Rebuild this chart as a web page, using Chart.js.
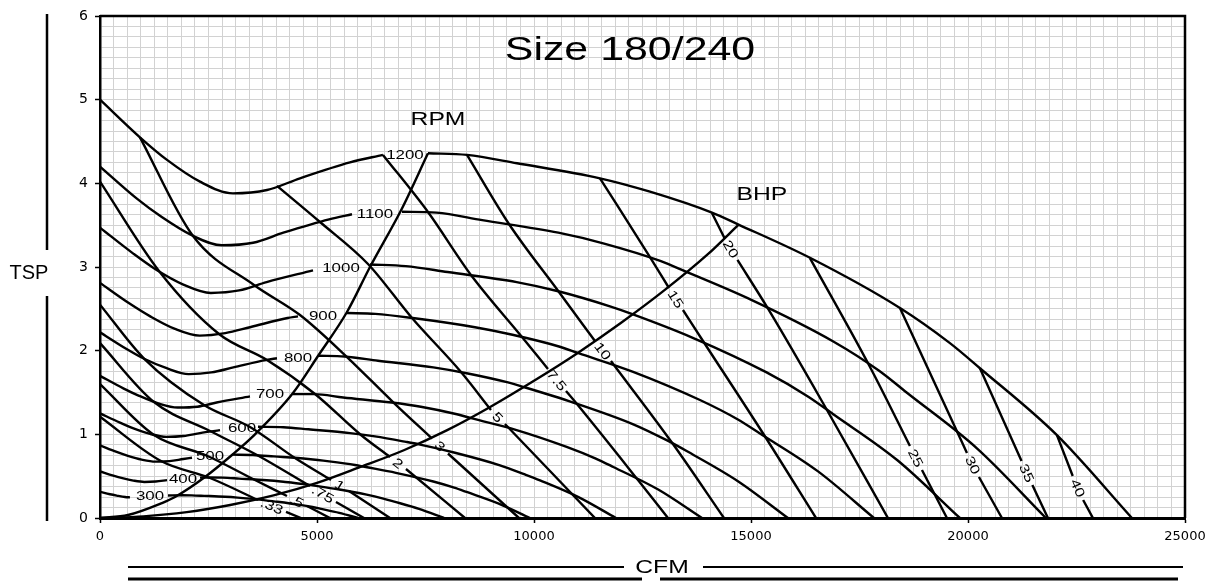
<!DOCTYPE html>
<html>
<head>
<meta charset="utf-8">
<script src="https://cdn.jsdelivr.net/npm/chart.js@4.4.1/dist/chart.umd.min.js"></script>
<style>
  html, body { margin: 0; padding: 0; background: #fff; }
</style>
</head>
<body>
<canvas id="js--fanChart" width="1213" height="583"></canvas>
<script>
// fan curve, size 180/240 - tsp vs cfm with rpm and bhp lines
const xTickLabels = [0, 5000, 10000, 15000, 20000, 25000];
const yTickLabels = [0, 1, 2, 3, 4, 5, 6];

const rpmValues = [300, 400, 500, 600, 700, 800, 900, 1000, 1100, 1200];

// [cfm, tsp]  (tsp null = break in the line where the label sits)
const rpm300 = [[0,0.3125],[230,0.284],[386,0.268],[576,0.251],[691,0.246],[1130,null],[1567,0.269],[1889,0.2725],[2114,0.271],[2402,0.265],[2880,0.254],[3168,0.244],[3525,0.228],[3675,0.219],[4090,0.194],[4608,0.157],[4896,0.131],[5069,0.112],[5512,0.062],[5944,0]];
const rpm400 = [[0,0.556],[307,0.506],[515,0.476],[768,0.447],[1021,0.431],[1283,0.436],[1544,0.452],[1920,null],[2304,0.483],[2519,0.484],[2819,0.482],[3203,0.471],[3840,0.451],[4224,0.433],[4700,0.406],[4900,0.39],[5453,0.346],[6144,0.279],[6528,0.232],[6758,0.199],[7350,0.11],[7926,0]];
const rpm500 = [[0,0.868],[383,0.79],[643,0.743],[960,0.698],[1277,0.674],[1603,0.68],[1920,0.705],[2120,0.72],[2580,null],[3041,0.757],[3523,0.753],[4003,0.736],[4800,0.705],[5280,0.677],[5875,0.634],[6125,0.609],[6816,0.54],[7680,0.436],[8160,0.363],[8448,0.311],[9187,0.172],[9907,0]];
const rpm600 = [[0,1.25],[460,1.14],[772,1.07],[1152,1.005],[1532,0.97],[1924,0.98],[2304,1.015],[2765,1.05],[3200,null],[3640,1.09],[4228,1.085],[4804,1.06],[5760,1.015],[6336,0.975],[7050,0.91],[7350,0.88],[8179,0.78],[9216,0.63],[9792,0.52],[10138,0.45],[11025,0.25],[11888,0]];
const rpm700 = [[0,1.70],[537,1.55],[901,1.46],[1344,1.37],[1787,1.32],[2245,1.33],[2688,1.38],[3456,1.453],[3950,null],[4447,1.48],[4933,1.48],[5605,1.44],[6720,1.38],[7392,1.33],[8225,1.24],[8575,1.19],[9542,1.06],[10752,0.85],[11424,0.71],[11827,0.61],[12862,0.34],[13870,0]];
const rpm800 = [[0,2.22],[613,2.02],[1029,1.90],[1536,1.79],[2043,1.72],[2565,1.74],[3072,1.80],[3840,1.89],[4078,1.91],[4550,null],[5023,1.94],[5637,1.93],[6405,1.88],[7680,1.80],[8448,1.73],[9400,1.62],[9800,1.56],[10905,1.38],[12288,1.12],[13056,0.93],[13517,0.80],[14699,0.44],[15851,0]];
const rpm900 = [[0,2.81],[690,2.56],[1158,2.41],[1728,2.26],[2298,2.18],[2886,2.21],[3456,2.28],[4320,2.39],[4562,2.41],[5120,null],[5691,2.45],[6342,2.44],[7206,2.39],[8640,2.28],[9504,2.19],[10575,2.05],[11025,1.97],[12269,1.75],[13824,1.41],[14688,1.18],[15206,1.01],[16537,0.56],[17833,0]];
const rpm1000 = [[0,3.47],[767,3.16],[1287,2.97],[1920,2.79],[2553,2.69],[3207,2.72],[3840,2.82],[4908,2.96],[5560,null],[6221,3.03],[7047,3.01],[8007,2.94],[9600,2.82],[10560,2.71],[11750,2.53],[12250,2.44],[13632,2.16],[15360,1.74],[16320,1.45],[16896,1.24],[18374,0.69],[19814,0]];
const rpm1100 = [[0,4.20],[843,3.82],[1415,3.60],[2112,3.38],[2809,3.26],[3527,3.29],[4224,3.41],[5280,3.57],[5806,3.63],[6380,null],[6958,3.66],[7751,3.65],[8807,3.56],[10560,3.41],[11616,3.28],[12925,3.07],[13475,2.95],[14995,2.61],[16896,2.11],[17952,1.76],[18586,1.50],[20212,0.83],[21796,0]];
const rpm1200 = [[0,5.00],[920,4.55],[1544,4.28],[2304,4.02],[3064,3.88],[3848,3.92],[4608,4.06],[5760,4.25],[6520,4.34],[7040,null],[7557,4.36],[8456,4.34],[9608,4.24],[11520,4.06],[12672,3.90],[14100,3.65],[14700,3.51],[16358,3.11],[18432,2.51],[19584,2.09],[20275,1.79],[22049,0.99],[23777,0]];

const bhpValues = ['.33', '.5', '.75', '1', '2', '3', '5', '7.5', '10', '15', '20', '25', '30', '35', '40'];

const bhp033 = [[0,1.21],[1405,0.681],[2534,0.478],[3640,0.215],[3963,null],[4286,0.072],[4631,0]];
const bhp05 = [[0,1.60],[1244,0.992],[2477,0.741],[3525,0.466],[4308,0.263],[4539,null],[4769,0.143],[5299,0]];
const bhp075 = [[0,2.09],[1244,1.386],[2534,1.040],[3617,0.753],[4838,0.382],[5138,null],[5437,0.191],[6083,0]];
const bhp1 = [[0,2.55],[1014,1.906],[2396,1.351],[3456,1.088],[4493,0.717],[5322,0.454],[5530,null],[5737,0.323],[6682,0]];
const bhp2 = [[0,4.02],[1359,2.952],[2742,2.199],[3848,1.888],[4954,1.482],[6013,0.992],[6682,0.729],[6866,null],[7050,0.586],[8410,0]];
const bhp3 = [[920,4.55],[2143,3.370],[3548,2.785],[4608,2.426],[5691,1.924],[6751,1.386],[7649,0.950],[7834,null],[8018,0.771],[9654,0]];
const bhp5 = [[4078,3.97],[5069,3.538],[6175,3.036],[7189,2.390],[8318,1.745],[9009,1.291],[9170,null],[9331,1.123],[11405,0]];
const bhp75 = [[6520,4.34],[7557,3.657],[8548,2.904],[9723,2.163],[10322,1.781],[10529,null],[10737,1.518],[10990,1.362],[12396,0.454],[13087,0]];
const bhp10 = [[8456,4.34],[9423,3.514],[10575,2.701],[11405,2.115],[11589,null],[11773,1.876],[13202,0.884],[14377,0]];
const bhp15 = [[11520,4.06],[12672,3.119],[13110,2.749],[13271,null],[13432,2.486],[13939,2.080],[15345,0.956],[16497,0]];
const bhp20 = [[14100,3.645],[14388,3.346],[14538,null],[14688,3.084],[15368,2.522],[16750,1.291],[18155,0]];
const bhp25 = [[16358,3.107],[17718,1.829],[18662,0.861],[18801,null],[18939,0.574],[19515,0]];
const bhp30 = [[18432,2.51],[19976,0.777],[20114,null],[20252,0.490],[20782,0]];
const bhp35 = [[20275,1.79],[21234,0.681],[21358,null],[21483,0.394],[21842,0]];
const bhp40 = [[22049,0.99],[22413,0.502],[22533,null],[22653,0.215],[22879,0]];

// the two guide curves the labels sit on
const rpmGuide = [[0,0],[645,0.036],[1428,0.179],[1728,0.251],[2419,0.49],[3041,0.753],[3571,1.00],[4447,1.494],[5023,1.936],[5691,2.462],[6221,3.0],[6958,3.70],[7557,4.36]];
const bhpGuide = [[0,0],[1000,0.02],[2000,0.07],[3000,0.155],[4000,0.27],[5000,0.42],[6000,0.61],[7000,0.81],[8000,1.05],[9000,1.33],[10000,1.64],[11000,1.97],[12000,2.33],[13000,2.72],[14000,3.15],[14720,3.51]];

// where the labels go (cfm, tsp) and how the bhp ones are turned
const rpmLabelAt = [[1152,0.275],[1912,0.478],[2534,0.753],[3272,1.088],[3917,1.494],[4562,1.924],[5138,2.426],[5553,3.0],[6336,3.645],[7027,4.35]];
const bhpLabelAt = [[3963,0.143],[4539,0.203],[5138,0.287],[5530,0.394],[6866,0.657],[7834,0.861],[9170,1.207],[10529,1.649],[11589,1.996],[13271,2.617],[14538,3.215],[18801,0.717],[20114,0.633],[21358,0.538],[22533,0.359]];
const bhpLabelAngle = [22.7, 27, 30, 32, 38.6, 43, 47.5, 50.6, 53, 57.7, 59.7, 63, 64, 65.6, 66.6];

const rpmCurves = [rpm300, rpm400, rpm500, rpm600, rpm700, rpm800, rpm900, rpm1000, rpm1100, rpm1200];
const bhpCurves = [bhp033, bhp05, bhp075, bhp1, bhp2, bhp3, bhp5, bhp75, bhp10, bhp15, bhp20, bhp25, bhp30, bhp35, bhp40];

const textFont = '"Liberation Sans", Arial, sans-serif';

function toPoints(list){
  return list.map(function(p){ return {x: p[0], y: p[1]}; });
}

function makeLine(label, list){
  return {
    label: label,
    data: toPoints(list),
    showLine: true,
    borderColor: '#000',
    borderWidth: 2.4,
    pointRadius: 0,
    cubicInterpolationMode: 'monotone',
    spanGaps: false,
    fill: false
  };
}

// wide text like the original print
function stretchText(ctx, text, x, y, size, angle, sx){
  ctx.save();
  ctx.translate(x, y);
  ctx.rotate(angle * Math.PI / 180);
  ctx.scale(sx, 1);
  ctx.font = size + 'px ' + textFont;
  ctx.fillStyle = '#000';
  ctx.textAlign = 'center';
  ctx.textBaseline = 'alphabetic';
  ctx.fillText(text, 0, 0.358 * size);
  ctx.restore();
}

function hLine(ctx, x1, x2, y, w){
  ctx.lineWidth = w;
  ctx.beginPath();
  ctx.moveTo(x1, y);
  ctx.lineTo(x2, y);
  ctx.stroke();
}

const labelPlugin = {
  id: 'fanLabels',
  afterDatasetsDraw: function(chart){
    const ctx = chart.ctx;
    const xs = chart.scales.x;
    const ys = chart.scales.y;
    const area = chart.chartArea;

    ctx.save();
    ctx.strokeStyle = '#000';
    ctx.lineWidth = 2.5;
    ctx.beginPath();
    ctx.moveTo(area.left, area.top);
    ctx.lineTo(area.right, area.top);
    ctx.lineTo(area.right, area.bottom);
    ctx.stroke();

    rpmValues.forEach(function(v, i){
      stretchText(ctx, String(v), xs.getPixelForValue(rpmLabelAt[i][0]), ys.getPixelForValue(rpmLabelAt[i][1]), 13, 0, 1.3);
    });
    bhpValues.forEach(function(v, i){
      stretchText(ctx, v, xs.getPixelForValue(bhpLabelAt[i][0]), ys.getPixelForValue(bhpLabelAt[i][1]), 13, bhpLabelAngle[i], 1.3);
    });

    stretchText(ctx, 'Size 180/240', area.left + 530, area.top + 32, 33, 0, 1.3);
    stretchText(ctx, 'RPM', xs.getPixelForValue(7788), ys.getPixelForValue(4.78), 19, 0, 1.3);
    stretchText(ctx, 'BHP', xs.getPixelForValue(15252), ys.getPixelForValue(3.884), 19, 0, 1.3);

    // axis titles with their rules
    stretchText(ctx, 'TSP', 29, 272, 20, 0, 1);
    ctx.lineWidth = 2.5;
    ctx.beginPath();
    ctx.moveTo(47, 14); ctx.lineTo(47, 250);
    ctx.moveTo(47, 296); ctx.lineTo(47, 521);
    ctx.stroke();

    stretchText(ctx, 'CFM', 662, 566, 19, 0, 1.3);
    hLine(ctx, 128, 624, 567, 2);
    hLine(ctx, 703, 1183, 567, 2);
    hLine(ctx, 128, 642, 579, 3);
    hLine(ctx, 660, 1178, 579, 3);
    ctx.restore();
  }
};

const datasets = [];
rpmCurves.forEach(function(c, i){ datasets.push(makeLine(rpmValues[i] + ' rpm', c)); });
bhpCurves.forEach(function(c, i){ datasets.push(makeLine(bhpValues[i] + ' bhp', c)); });
datasets.push(makeLine('rpm guide', rpmGuide));
datasets.push(makeLine('bhp guide', bhpGuide));

const fanChart = new Chart(document.getElementById('js--fanChart'), {
  type: 'scatter',
  data: { datasets: datasets },
  options: {
    responsive: false,
    animation: false,
    devicePixelRatio: 1,
    layout: { padding: { top: 16, right: 28, bottom: 0, left: 0 } },
    plugins: {
      legend: { display: false },
      tooltip: { enabled: false }
    },
    scales: {
      x: {
        type: 'linear',
        min: 0,
        max: 25000,
        afterFit: function(scale){ scale.height = 65; },
        ticks: {
          stepSize: 312.5,
          autoSkip: false,
          maxRotation: 0,
          padding: 6,
          color: '#000',
          font: { family: 'DejaVu Sans', size: 13 },
          callback: function(value){ return xTickLabels.indexOf(value) >= 0 ? String(value) : ''; }
        },
        grid: {
          color: '#d2d2d2',
          lineWidth: 1,
          tickLength: 5,
          tickWidth: 1.5,
          tickColor: function(c){ return (c.tick && xTickLabels.indexOf(c.tick.value) >= 0) ? '#000' : 'rgba(0,0,0,0)'; }
        },
        border: { color: '#000', width: 3 }
      },
      y: {
        type: 'linear',
        min: 0,
        max: 6,
        afterFit: function(scale){ scale.width = 100; },
        ticks: {
          stepSize: 0.125,
          autoSkip: false,
          padding: 7,
          color: '#000',
          font: { family: 'DejaVu Sans', size: 14 },
          callback: function(value){ return yTickLabels.indexOf(value) >= 0 ? String(value) : ''; }
        },
        grid: {
          color: '#d2d2d2',
          lineWidth: 1,
          tickLength: 5,
          tickWidth: 1.5,
          tickColor: function(c){ return (c.tick && yTickLabels.indexOf(c.tick.value) >= 0) ? '#000' : 'rgba(0,0,0,0)'; }
        },
        border: { color: '#000', width: 2.5 }
      }
    }
  },
  plugins: [labelPlugin]
});
</script>
</body>
</html>
